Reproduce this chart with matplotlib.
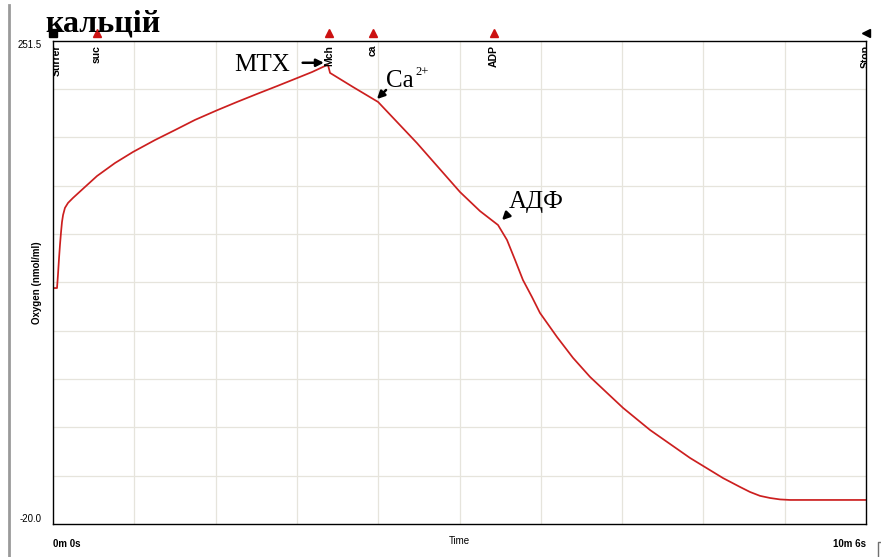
import numpy as np
import matplotlib
matplotlib.use('Agg')
import matplotlib.pyplot as plt
from matplotlib.lines import Line2D
import matplotlib.transforms as mtransforms

plt.rcParams['font.family'] = ['Liberation Sans', 'DejaVu Sans']

# oxygen trace, time in s, concentration in nmol/ml
time_s = [0, 3.0, 3.7, 4.5, 5.2, 6.0, 6.7, 7.5, 8.9, 11.2, 14.9, 23.9,
          32.8, 46.2, 59.6, 76.0, 90.9, 105.8, 122.2, 137.2, 152.1, 167.0,
          181.9, 193.1, 204.2, 205.0, 206.5, 223.6, 242.3, 271.3, 303.4,
          318.3, 331.7, 338.4, 344.4, 350.3, 357.0, 363.0, 375.7, 387.6,
          400.3, 413.0, 424.9, 445.0, 474.8, 499.4, 512.1, 519.5, 527.0,
          534.5, 541.9, 549.4, 606.0]
oxygen = [112.5, 112.5, 119.8, 129.3, 136.7, 144.0, 149.6, 153.5, 157.5,
          160.3, 163.1, 169.3, 175.4, 182.7, 188.9, 195.6, 201.2, 206.9,
          212.3, 217.0, 221.5, 225.9, 230.4, 233.8, 237.7, 237.7, 233.3,
          225.4, 217.0, 193.9, 166.4, 155.7, 147.9, 139.5, 128.3, 117.0,
          107.5, 98.5, 85.0, 73.3, 62.6, 53.6, 45.2, 32.8, 17.1, 5.8, 0.8,
          -2.0, -4.2, -5.4, -6.2, -6.5, -6.5]

# event marks along the top edge
event_names = ['Stirrer', 'suc', 'Mch', 'ca', 'ADP', 'Stop']
event_times = [0, 32.8, 205.7, 238.5, 328.7, 606]
event_marker = ['s', '^', '^', '^', '^', '<']
event_color = ['black', '#cc1111', '#cc1111', '#cc1111', '#cc1111', 'black']

y_min, y_max = -20.0, 251.5
t_end = 606

fig = plt.figure(figsize=(8.81, 5.57), dpi=100)
ax = fig.add_axes([53 / 881, 33 / 557, 813 / 881, 483.5 / 557])

ax.plot(time_s, oxygen, color='#cc1f1f', lw=1.25)

ax.set_xlim(0, t_end)
ax.set_ylim(y_min, y_max)

# light grid, 10 divisions each way
ax.set_xticks(np.linspace(0, t_end, 11), minor=True)
ax.set_yticks(np.linspace(y_min, y_max, 11), minor=True)
ax.grid(which='minor', color='#e6e4dc', lw=0.9)
ax.tick_params(which='both', length=0)

ax.set_xticks([0, t_end])
ax.set_xticklabels(['0m 0s', '10m 6s'], fontsize=7, fontweight='bold')
xl = ax.get_xticklabels()
xl[0].set_ha('left')
xl[1].set_ha('right')
ax.tick_params(axis='x', pad=11)

ax.set_yticks([y_min, y_max])
ax.set_yticklabels(['-20.0', '251.5'], fontsize=7)
yl = ax.get_yticklabels()
yl[0].set_va('bottom')
yl[1].set_va('top')
ax.tick_params(axis='y', pad=8)

ax.set_xlabel('Time', fontsize=7)
ax.xaxis.set_label_coords(0.5, -0.035)
ax.xaxis.label.set_va('center')
ax.set_ylabel('Oxygen (nmol/ml)', fontsize=7, fontweight='bold')
ax.yaxis.set_label_coords(-0.0197, 0.5)
ax.yaxis.label.set_va('center')

for s in ax.spines.values():
    s.set_color('black')
    s.set_linewidth(1.0)

trans = mtransforms.blended_transform_factory(ax.transData, ax.transAxes)
for name, t, m, c in zip(event_names, event_times, event_marker, event_color):
    ax.plot([t], [1.0155], marker=m, color=c, markersize=6, ls='none',
            transform=trans, clip_on=False)
    ax.text(t + (3 if name == 'Stirrer' else 0), 0.991, name, rotation=90,
            ha='center', va='top', fontsize=7.5, fontweight='bold',
            transform=trans, clip_on=True)

serif = 'Liberation Serif'
fig.text(45 / 881, 1 - 24 / 557, 'кальцій', family=serif, fontsize=23,
         fontweight='bold', ha='left', va='center')

# annotations for additions
ax.text(155.5, 238.0, 'MTX', family=serif, fontsize=18, ha='center',
        va='center')
ax.annotate('', xy=(204.0, 239.0), xytext=(184.0, 239.0),
            arrowprops=dict(arrowstyle='-|>', color='black', lw=1.8,
                            mutation_scale=11))

ax.text(248.0, 229.0, 'Ca', family=serif, fontsize=18, ha='left',
        va='center')
ax.text(270.5, 234.0, '2+', family=serif, fontsize=9, ha='left',
        va='center')
ax.annotate('', xy=(240.0, 217.5), xytext=(249.7, 224.8),
            arrowprops=dict(arrowstyle='-|>', color='black', lw=1.8,
                            mutation_scale=11))

ax.text(340.0, 161.0, 'АДФ', family=serif, fontsize=18, ha='left',
        va='center')
ax.annotate('', xy=(333.2, 149.5), xytext=(340.6, 155.1),
            arrowprops=dict(arrowstyle='-|>', color='black', lw=1.8,
                            mutation_scale=11))

# window frame edges
fig.add_artist(Line2D([9 / 881, 9 / 881], [0, 1 - 5 / 557], color='#9a9a9a',
                      lw=2))
fig.add_artist(Line2D([878 / 881, 878 / 881, 1], [0, 1 - 542 / 557, 1 - 542 / 557],
                      color='#707070', lw=1))

fig.savefig('out.png', dpi=100)
